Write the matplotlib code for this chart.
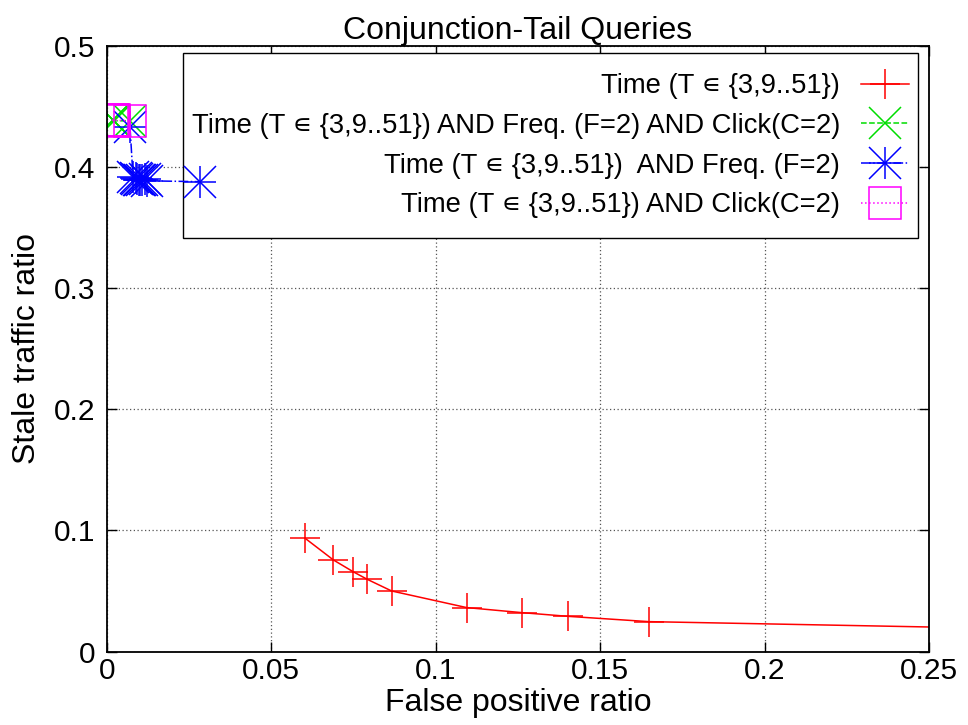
import matplotlib
matplotlib.use("Agg")
import matplotlib.pyplot as plt
from matplotlib.legend_handler import HandlerTuple
from matplotlib.path import Path

plt.rcParams['font.family'] = ['Liberation Sans', 'DejaVu Sans']

# ---- data ----
time_x = [0.0603, 0.0689, 0.0749, 0.0792, 0.0866, 0.1094, 0.1263, 0.1401, 0.1648, 0.30]
time_y = [0.0936, 0.0757, 0.0660, 0.0597, 0.0501, 0.0364, 0.0322, 0.0292, 0.0248, 0.0178]

tfc_x = [0.0018, 0.0020, 0.0022, 0.0071]
tfc_y = [0.4390, 0.4385, 0.4380, 0.4380]

tf_x = [0.0071, 0.0080, 0.0088, 0.0093, 0.0098, 0.0102, 0.0108, 0.0115, 0.0122, 0.0284]
tf_y = [0.4327, 0.3920, 0.3905, 0.3900, 0.3890, 0.3895, 0.3890, 0.3900, 0.3885, 0.3878]

tc_x = [0.0017, 0.0019, 0.0021, 0.0023, 0.0072]
tc_y = [0.4390, 0.4385, 0.4380, 0.4385, 0.4380]

labels = [
    "Time (T \u220a {3,9..51})",
    "Time (T \u220a {3,9..51}) AND Freq. (F=2) AND Click(C=2)",
    "Time (T \u220a {3,9..51})  AND Freq. (F=2)",
    "Time (T \u220a {3,9..51}) AND Click(C=2)",
]
xticks = [0, 0.05, 0.1, 0.15, 0.2, 0.25]
xtick_labels = ["0", "0.05", "0.1", "0.15", "0.2", "0.25"]
yticks = [0, 0.1, 0.2, 0.3, 0.4, 0.5]
ytick_labels = ["0", "0.1", "0.2", "0.3", "0.4", "0.5"]

fig = plt.figure(figsize=(9.68, 7.25), dpi=100)
ax = fig.add_axes([0.1102, 0.1011, 0.96 - 0.1102, 0.937 - 0.1011])

ms = 23
mew = 1.1
l_red, = ax.plot(time_x, time_y, color='#ff0000', lw=1.1, marker='+', ms=22, mew=mew)
l_grn, = ax.plot(tfc_x, tfc_y, color='#00dd00', lw=1.1, ls='--', marker='x', ms=ms, mew=mew)
l_blu, = ax.plot(tf_x, tf_y, color='#0000ff', lw=1.1, ls='-.', marker='+', ms=ms, mew=mew)
l_blu2, = ax.plot(tf_x, tf_y, color='#0000ff', lw=0, marker='x', ms=ms, mew=mew)
l_mag, = ax.plot(tc_x, tc_y, color='#ff00ff', lw=1.1, ls=':', marker='s', ms=ms, mew=mew,
                 mfc='none')

ax.set_xlim(0, 0.25)
ax.set_ylim(0, 0.5)
ax.set_xticks(xticks)
ax.set_xticklabels(xtick_labels)
ax.set_yticks(yticks)
ax.set_yticklabels(ytick_labels)
ax.tick_params(direction='in', length=7, width=1, top=True, right=True,
               labelsize=21.5)
ax.tick_params(axis='x', pad=4)
ax.tick_params(axis='y', pad=8)
ax.grid(True, color='#555555', ls=(0, (1, 2)), lw=0.9)
for s in ax.spines.values():
    s.set_linewidth(1.3)

ax.set_title("Conjunction-Tail Queries", fontsize=23, pad=5)
ax.set_xlabel("False positive ratio", fontsize=23, labelpad=2)
ax.set_ylabel("Stale traffic ratio", fontsize=23, labelpad=9)

leg = ax.legend([l_red, l_grn, (l_blu, l_blu2), l_mag], labels,
                handler_map={tuple: HandlerTuple(ndivide=1, pad=0)},
                loc='upper right', bbox_to_anchor=(0.9863, 0.9693),
                borderaxespad=0, fontsize=19.7, markerfirst=False,
                handlelength=1.76, handletextpad=0.75, labelspacing=0.5,
                borderpad=0.33, fancybox=False, framealpha=1, edgecolor='black',
                numpoints=1)


def vpad_box(x0, y0, width, height, mutation_size):
    e = 0.4 * mutation_size
    y0 -= e
    height += 2 * e
    return Path([(x0, y0), (x0 + width, y0), (x0 + width, y0 + height),
                 (x0, y0 + height), (x0, y0)], closed=True)


frame = leg.get_frame()
frame.set_boxstyle(vpad_box)
frame.set_linewidth(1.0)
leg.set_zorder(1.8)

fig.savefig("out.png", dpi=100)
